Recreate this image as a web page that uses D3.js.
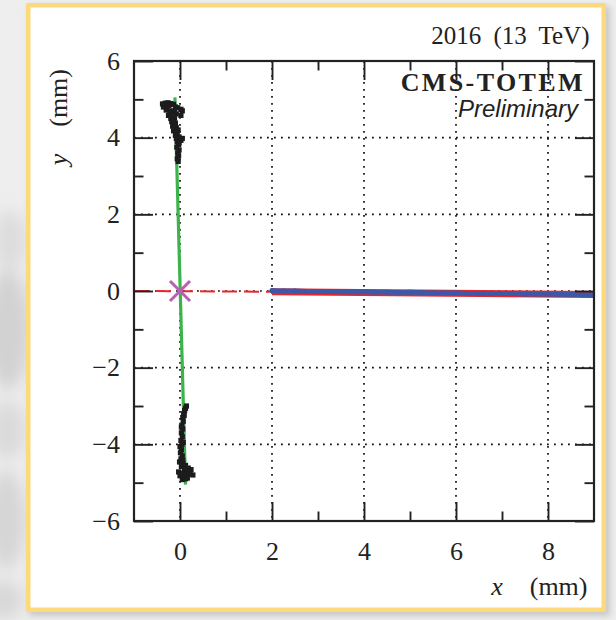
<!DOCTYPE html>
<html>
<head>
<meta charset="utf-8">
<script src="https://cdn.jsdelivr.net/npm/d3@7"></script>
<style>
  html, body { margin: 0; padding: 0; background: #ececec; }
  svg { display: block; }
</style>
</head>
<body>
<svg id="chart" width="616" height="620"></svg>
<script>
// ---- data (mm) ----
const xMajorTicks = [0, 2, 4, 6, 8];
const xMinorTicks = [1, 3, 5, 7];
const yMajorTicks = [-6, -4, -2, 0, 2, 4, 6];
const yMinorTicks = [-5, -3, -1, 1, 3, 5];
const xGrid = [0, 2, 4, 6, 8];
const yGrid = [-4, -2, 0, 2, 4];

// vertical scan, upper arm
const scanUpper = [
  [-0.38, 4.88], [-0.32, 4.90], [-0.26, 4.91], [-0.20, 4.89], [-0.14, 4.87],
  [-0.36, 4.80], [-0.28, 4.82], [-0.10, 4.80], [-0.05, 4.78], [0.02, 4.74],
  [0.05, 4.70], [-0.30, 4.72], [-0.22, 4.70], [-0.16, 4.66], [-0.08, 4.62],
  [0.02, 4.58], [-0.25, 4.58], [-0.20, 4.50], [-0.12, 4.52], [-0.18, 4.42],
  [-0.10, 4.38], [-0.16, 4.30], [-0.08, 4.26], [-0.14, 4.18], [-0.06, 4.12],
  [-0.10, 4.06], [-0.02, 4.02], [0.05, 3.98], [0.02, 3.93], [-0.06, 3.90],
  [-0.03, 3.82], [-0.07, 3.75], [-0.02, 3.68], [-0.05, 3.60], [-0.03, 3.52],
  [-0.06, 3.45], [-0.04, 3.38], [-0.24, 4.84], [-0.12, 4.70], [-0.20, 4.62],
  [-0.14, 4.46], [-0.12, 4.34], [-0.04, 4.20], [-0.08, 3.98], [-0.02, 3.86]
];
// vertical scan, lower arm
const scanLower = [
  [0.14, -3.00], [0.12, -3.06], [0.10, -3.12], [0.08, -3.20], [0.06, -3.30],
  [0.07, -3.40], [0.04, -3.50], [0.06, -3.60], [0.03, -3.70], [0.05, -3.80],
  [0.02, -3.90], [0.04, -4.00], [0.00, -4.06], [0.03, -4.14], [0.01, -4.22],
  [0.05, -4.30], [0.02, -4.38], [-0.01, -4.46], [0.06, -4.50], [0.12, -4.55],
  [0.03, -4.58], [0.18, -4.62], [0.24, -4.66], [0.10, -4.68], [-0.03, -4.72],
  [0.05, -4.75], [0.15, -4.76], [0.22, -4.78], [0.28, -4.80], [0.00, -4.82],
  [0.08, -4.86], [0.16, -4.88], [0.05, -4.92], [0.09, -3.25], [0.03, -3.55],
  [0.07, -3.95], [0.06, -4.42], [0.20, -4.72], [0.12, -4.90]
];
// horizontal scan
const scanHorizX = [2.00, 2.25, 2.50, 2.75, 3.00, 3.25, 3.50, 3.75, 4.00, 4.25,
  4.50, 4.75, 5.00, 5.25, 5.50, 5.75, 6.00, 6.25, 6.50, 6.75, 7.00, 7.25, 7.50,
  7.75, 8.00, 8.25, 8.50, 8.75, 9.00];
const scanHorizY = [0.01, 0.00, 0.00, -0.01, -0.01, -0.01, -0.02, -0.02, -0.02,
  -0.03, -0.03, -0.04, -0.03, -0.04, -0.05, -0.05, -0.05, -0.06, -0.06, -0.07,
  -0.06, -0.07, -0.08, -0.08, -0.08, -0.09, -0.09, -0.10, -0.10];

// straight-line fits
const fitVertical = [[-0.11, 5.05], [0.12, -5.05]];
const fitHorizDashed = [[-1, 0.0], [2, -0.02]];
const fitHorizSolid = [[2, -0.02], [9, -0.09]];
const crossPoint = [0, 0];

// ---- layout ----
const svg = d3.select("#chart");
const W = 616, H = 620;
const L = 134, R = 594, T = 61, B = 521;

const x = d3.scaleLinear().domain([-1, 9]).range([L, R]);
const y = d3.scaleLinear().domain([-6, 6]).range([B, T]);

const defs = svg.append("defs");
defs.append("filter").attr("id", "soft").attr("x", "-100%").attr("y", "-50%")
  .attr("width", "300%").attr("height", "200%")
  .append("feGaussianBlur").attr("stdDeviation", 8);
defs.append("filter").attr("id", "shadow").attr("x", "-10%").attr("y", "-10%")
  .attr("width", "120%").attr("height", "120%")
  .append("feGaussianBlur").attr("stdDeviation", 3);
defs.append("clipPath").attr("id", "plotClip")
  .append("rect").attr("x", L).attr("y", T).attr("width", R - L).attr("height", B - T);

// backdrop
svg.append("rect").attr("width", W).attr("height", H).attr("fill", "#eeeeee");
const bg = svg.append("g").attr("filter", "url(#soft)");
bg.append("ellipse").attr("cx", 8).attr("cy", 330).attr("rx", 22).attr("ry", 60).attr("fill", "#d2d2d2");
bg.append("ellipse").attr("cx", 6).attr("cy", 520).attr("rx", 20).attr("ry", 50).attr("fill", "#d6d6d6");
bg.append("ellipse").attr("cx", 10).attr("cy", 240).attr("rx", 16).attr("ry", 30).attr("fill", "#dcdcdc");
bg.append("ellipse").attr("cx", 8).attr("cy", 430).attr("rx", 18).attr("ry", 30).attr("fill", "#dadada");
bg.append("ellipse").attr("cx", 4).attr("cy", 600).attr("rx", 20).attr("ry", 20).attr("fill", "#d8d8d8");

// card with gold border and soft shadow
svg.append("rect").attr("x", 29).attr("y", 6).attr("width", 581).attr("height", 610)
  .attr("fill", "#c8c8c8").attr("filter", "url(#shadow)");
svg.append("rect").attr("x", 26).attr("y", 3).attr("width", 580).attr("height", 609)
  .attr("rx", 2).attr("fill", "#fcd97a");
svg.append("rect").attr("x", 30.5).attr("y", 7.5).attr("width", 571).attr("height", 600)
  .attr("fill", "#ffffff");

const ink = "#222222";

// grid
const grid = svg.append("g").attr("stroke", "#111").attr("stroke-width", 1.7)
  .attr("stroke-dasharray", "1.8,5.2");
grid.selectAll("line.gx").data(xGrid).join("line")
  .attr("x1", d => x(d)).attr("x2", d => x(d)).attr("y1", T).attr("y2", B);
grid.selectAll("line.gy").data(yGrid).join("line")
  .attr("y1", d => y(d)).attr("y2", d => y(d)).attr("x1", L).attr("x2", R);

const plot = svg.append("g").attr("clip-path", "url(#plotClip)");
const line = d3.line().x(d => x(d[0])).y(d => y(d[1]));

// horizontal fit
plot.append("path").datum(fitHorizDashed).attr("d", line)
  .attr("fill", "none").attr("stroke", "#e8262b").attr("stroke-width", 2)
  .attr("stroke-dasharray", "15,7");
plot.append("path").datum(fitHorizSolid).attr("d", line)
  .attr("fill", "none").attr("stroke", "#e8262b").attr("stroke-width", 7);

// horizontal scan points
const horiz = scanHorizX.map((v, i) => [v, scanHorizY[i]]);
plot.append("path").datum(horiz).attr("d", line)
  .attr("fill", "none").attr("stroke", "#3c58a8").attr("stroke-width", 4.8)
  .attr("stroke-linecap", "round").attr("stroke-linejoin", "round");
plot.append("g").selectAll("circle").data(horiz).join("circle")
  .attr("cx", d => x(d[0])).attr("cy", d => y(d[1])).attr("r", 2.5)
  .attr("fill", "#3c58a8");

// vertical fit
plot.append("path").datum(fitVertical).attr("d", line)
  .attr("fill", "none").attr("stroke", "#3cb44b").attr("stroke-width", 3.2);

// vertical scan points
const ms = 5.2;
plot.append("g").selectAll("rect")
  .data(scanUpper.concat(scanLower)).join("rect")
  .attr("x", d => x(d[0]) - ms / 2).attr("y", d => y(d[1]) - ms / 2)
  .attr("width", ms).attr("height", ms).attr("fill", "#1c1c1c");

// crossing point marker
const cx = x(crossPoint[0]), cy = y(crossPoint[1]), cs = 10;
plot.append("path")
  .attr("d", `M${cx - cs},${cy - cs}L${cx + cs},${cy + cs}M${cx - cs},${cy + cs}L${cx + cs},${cy - cs}`)
  .attr("stroke", "#bb5db4").attr("stroke-width", 3).attr("fill", "none");

// axes: ticks on all four sides, pointing inwards
const major = 19, minor = 9.5;
function styleAxis(g) {
  g.select(".domain").remove();
  g.selectAll(".tick line").attr("stroke", ink).attr("stroke-width", 1.9);
  g.selectAll(".tick text").attr("fill", ink)
    .style("font-family", "'Liberation Serif', 'Times New Roman', serif")
    .style("font-size", "26px");
}
const fmt = d => d < 0 ? "\u2212" + Math.abs(d) : String(d);

svg.append("g").attr("transform", `translate(0,${B})`)
  .call(d3.axisBottom(x).tickValues(xMajorTicks).tickSizeInner(-major).tickSizeOuter(0)
    .tickPadding(21).tickFormat(fmt)).call(styleAxis);
svg.append("g").attr("transform", `translate(0,${B})`)
  .call(d3.axisBottom(x).tickValues(xMinorTicks).tickSizeInner(-minor).tickSizeOuter(0)
    .tickFormat("")).call(styleAxis);
svg.append("g").attr("transform", `translate(0,${T})`)
  .call(d3.axisTop(x).tickValues(xMajorTicks).tickSizeInner(-major).tickSizeOuter(0)
    .tickFormat("")).call(styleAxis);
svg.append("g").attr("transform", `translate(0,${T})`)
  .call(d3.axisTop(x).tickValues(xMinorTicks).tickSizeInner(-minor).tickSizeOuter(0)
    .tickFormat("")).call(styleAxis);

svg.append("g").attr("transform", `translate(${L},0)`)
  .call(d3.axisLeft(y).tickValues(yMajorTicks).tickSizeInner(-major).tickSizeOuter(0)
    .tickPadding(14).tickFormat(fmt)).call(styleAxis);
svg.append("g").attr("transform", `translate(${L},0)`)
  .call(d3.axisLeft(y).tickValues(yMinorTicks).tickSizeInner(-minor).tickSizeOuter(0)
    .tickFormat("")).call(styleAxis);
svg.append("g").attr("transform", `translate(${R},0)`)
  .call(d3.axisRight(y).tickValues(yMajorTicks).tickSizeInner(-major).tickSizeOuter(0)
    .tickFormat("")).call(styleAxis);
svg.append("g").attr("transform", `translate(${R},0)`)
  .call(d3.axisRight(y).tickValues(yMinorTicks).tickSizeInner(-minor).tickSizeOuter(0)
    .tickFormat("")).call(styleAxis);

// frame
svg.append("rect").attr("x", L).attr("y", T).attr("width", R - L).attr("height", B - T)
  .attr("fill", "none").attr("stroke", ink).attr("stroke-width", 2.2);

// texts
const serif = "'Liberation Serif', 'Times New Roman', serif";
svg.append("text").attr("x", 589.5).attr("y", 44).attr("text-anchor", "end")
  .style("font-family", serif).style("font-size", "25px").style("word-spacing", "6px")
  .attr("fill", ink).text("2016 (13 TeV)");

svg.append("text").attr("x", 585).attr("y", 91).attr("text-anchor", "end")
  .style("font-family", serif).style("font-size", "26px").style("font-weight", "bold")
  .style("letter-spacing", "2.4px").attr("fill", ink).text("CMS-TOTEM");

svg.append("text").attr("x", 578).attr("y", 117).attr("text-anchor", "end")
  .style("font-family", "'Liberation Sans', Arial, sans-serif").style("font-size", "24px")
  .style("font-style", "italic").attr("fill", ink).text("Preliminary");

const xt = svg.append("text").attr("x", 587.5).attr("y", 595).attr("text-anchor", "end")
  .style("font-family", serif).style("font-size", "26px").attr("fill", ink);
xt.append("tspan").style("font-style", "italic").text("x");
xt.append("tspan").attr("dx", 27).text("(mm)");

const yt = svg.append("text").attr("transform", "translate(67,69) rotate(-90)")
  .attr("text-anchor", "end")
  .style("font-family", serif).style("font-size", "26px").attr("fill", ink);
yt.append("tspan").style("font-style", "italic").text("y");
yt.append("tspan").attr("dx", 27).text("(mm)");
</script>
</body>
</html>
